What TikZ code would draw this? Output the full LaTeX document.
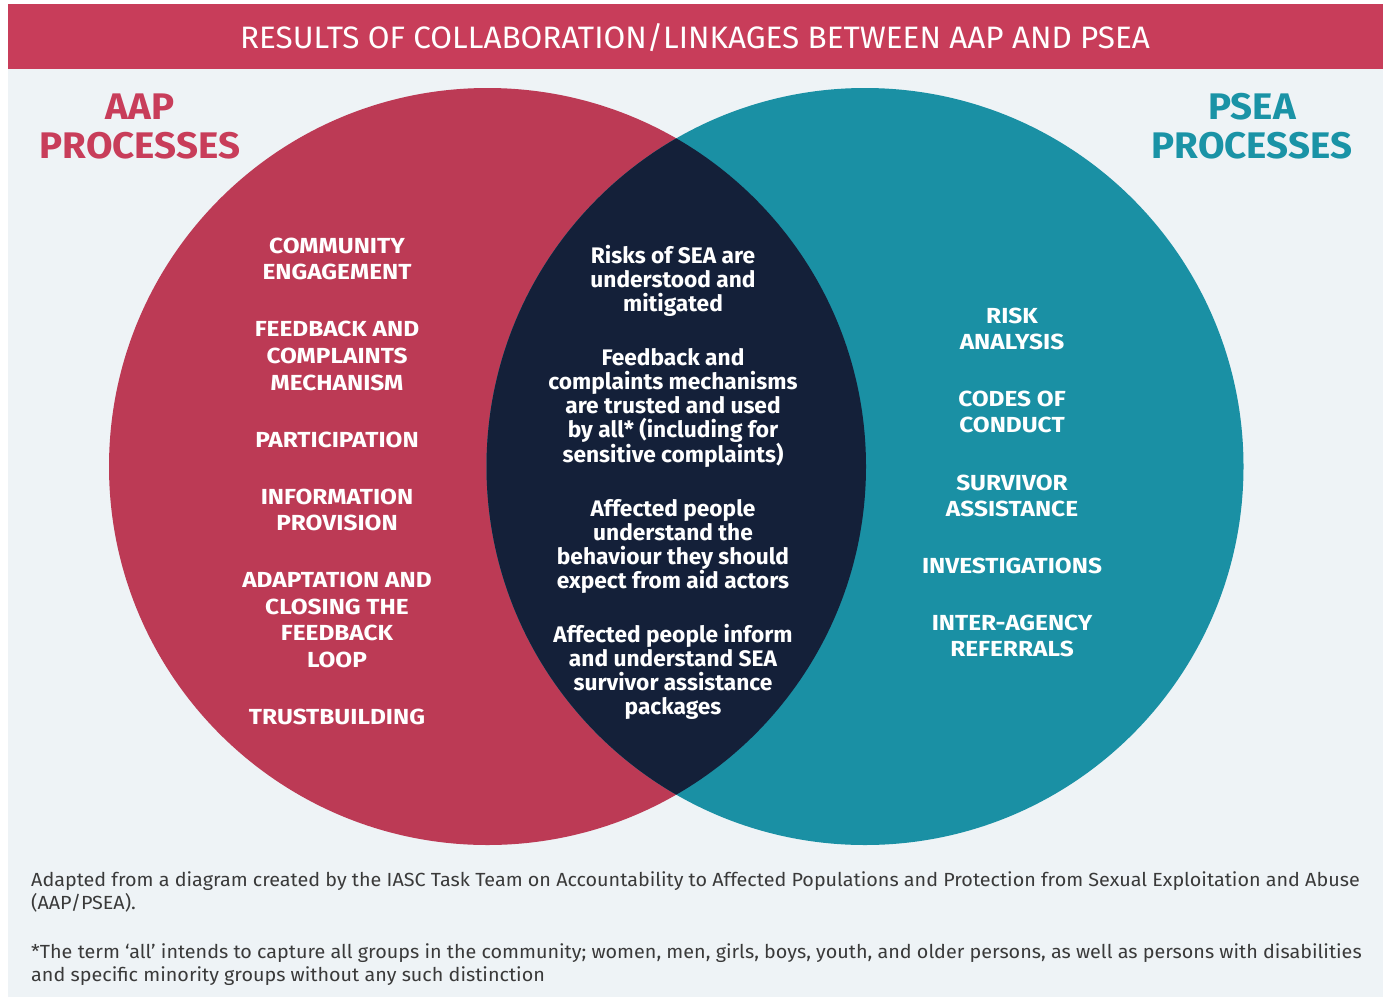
\documentclass[tikz,border=0pt]{standalone}
\usepackage{fontspec}
\setmainfont{Fira Sans}
\newfontfamily\titlefont{Fira Sans}[FakeStretch=1.015]
\newfontfamily\footfont{Fira Sans}[FakeStretch=1.04]
\newfontfamily\capfont{Fira Sans}[FakeStretch=1.12]
\newfontfamily\lensfont{Fira Sans}[FakeStretch=1.01]
\newfontfamily\headfont{Fira Sans}[FakeStretch=1.04]
\definecolor{bandred}{HTML}{C83D5A}
\definecolor{aapred}{HTML}{BC3A55}
\definecolor{pseateal}{HTML}{1A90A4}
\definecolor{lensnavy}{HTML}{142039}
\definecolor{panelbg}{HTML}{EEF3F6}
\definecolor{foottext}{HTML}{3A3A3A}
\definecolor{headred}{HTML}{C83D5A}
\definecolor{headteal}{HTML}{1A93A6}
\begin{document}
\begin{tikzpicture}[x=1pt,y=-1pt,
  caplist/.style={text=white,align=center,font=\capfont\bfseries\fontsize{21.8}{26.8}\selectfont,inner sep=0pt},
  lenstext/.style={text=white,align=center,font=\lensfont\bfseries\fontsize{22.5}{24}\selectfont,inner sep=0pt},
  heading/.style={align=center,font=\headfont\bfseries\fontsize{37}{39}\selectfont,inner sep=0pt},
  foot/.style={text=foottext,align=left,anchor=north west,font=\footfont\fontsize{19}{23.5}\selectfont,inner sep=0pt}]
\useasboundingbox (0,0) rectangle (1383,1001);
\fill[white] (0,0) rectangle (1383,1001);
\fill[panelbg] (8,4) rectangle (1383,997);
\fill[bandred] (8,4) rectangle (1383,69);
\node[text=white,font=\titlefont\fontsize{31}{33}\selectfont,inner sep=0pt] (title) at (695,38) {RESULTS OF COLLABORATION/LINKAGES BETWEEN AAP AND PSEA};
% circles
\fill[aapred] (487.5,466.5) circle[radius=378.5];
\fill[pseateal] (865,466.5) circle[radius=378.5];
\begin{scope}
  \clip (487.5,466.5) circle[radius=378.5];
  \fill[lensnavy] (865,466.5) circle[radius=378.5];
\end{scope}
% headings
\node[heading,text=headred] (aaphead) at (140,126) {AAP\\PROCESSES};
\node[heading,text=headteal] (pseahead) at (1252,126) {PSEA\\PROCESSES};
% AAP list
\node[caplist] (a1) at (337,259) {COMMUNITY\\ENGAGEMENT};
\node[caplist] (a2) at (337,356) {FEEDBACK AND\\COMPLAINTS\\MECHANISM};
\node[caplist] (a3) at (337,440) {PARTICIPATION};
\node[caplist] (a4) at (337,510) {INFORMATION\\PROVISION};
\node[caplist] (a5) at (337,620) {ADAPTATION AND\\CLOSING THE\\FEEDBACK\\LOOP};
\node[caplist] (a6) at (337,717) {TRUSTBUILDING};
% lens
\node[lenstext] (c1) at (673,281) {Risks of SEA are\\understood and\\mitigated};
\node[lenstext] (c2) at (673,408) {Feedback and\\complaints mechanisms\\are trusted and used\\by all* (including for\\sensitive complaints)};
\node[lenstext] (c3) at (673,546) {Affected people\\understand the\\behaviour they should\\expect from aid actors};
\node[lenstext] (c4) at (673,672) {Affected people inform\\and understand SEA\\survivor assistance\\packages};
% PSEA list
\node[caplist] (p1) at (1012,329) {RISK\\ANALYSIS};
\node[caplist] (p2) at (1012,412) {CODES OF\\CONDUCT};
\node[caplist] (p3) at (1012,496) {SURVIVOR\\ASSISTANCE};
\node[caplist] (p4) at (1012,566) {INVESTIGATIONS};
\node[caplist] (p5) at (1012,636) {INTER-AGENCY\\REFERRALS};
% footer
\node[foot] (f1) at (31,871) {Adapted from a diagram created by the IASC Task Team on Accountability to Affected Populations and Protection from Sexual Exploitation and Abuse\\(AAP/PSEA).};
\node[foot] (f2) at (31,943) {*The term ‘all’ intends to capture all groups in the community; women, men, girls, boys, youth, and older persons, as well as persons with disabilities\\and specific minority groups without any such distinction};
\end{tikzpicture}
\end{document}
